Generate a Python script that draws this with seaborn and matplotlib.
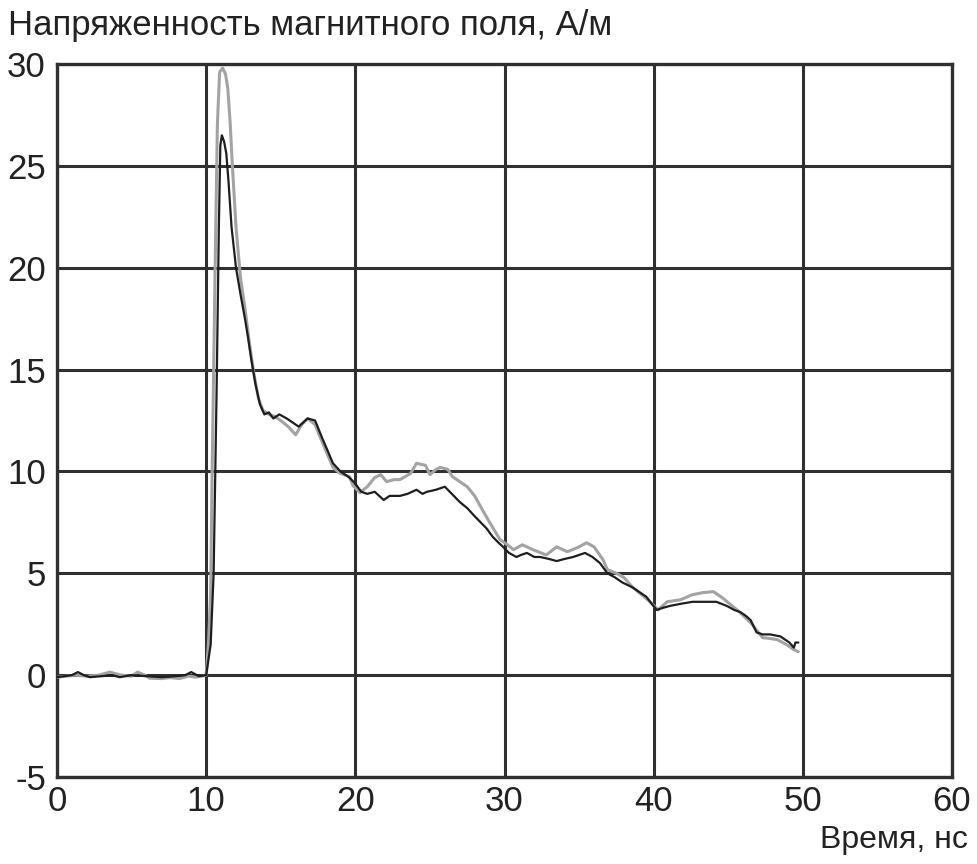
import numpy as np
import pandas as pd
import matplotlib
matplotlib.use('Agg')
import matplotlib.pyplot as plt
import seaborn as sns

# ====================== DATA ======================
t_dark = [0.0, 0.5, 1.0, 1.4, 1.8, 2.2, 3.0, 3.7, 4.2, 5.0, 6.0, 7.0, 8.0, 8.6, 9.0, 9.5, 10.0,
          10.3, 10.5, 10.7, 10.85, 10.95, 11.05, 11.2, 11.35, 11.5, 11.7, 12.0, 12.3, 12.6,
          12.8, 13.0, 13.3, 13.6, 13.9, 14.2, 14.5, 14.9, 15.4, 15.8, 16.2, 16.8, 17.3, 17.8,
          18.5, 19.0, 19.6, 20.0, 20.4, 20.8, 21.3, 21.9, 22.3, 23.0, 23.5, 24.1, 24.5, 24.8,
          25.4, 26.0, 26.6, 27.0, 27.5, 28.0, 28.4, 28.8, 29.2, 29.6, 29.9, 30.3, 30.8, 31.1,
          31.5, 32.0, 32.4, 33.0, 33.5, 34.0, 34.6, 35.0, 35.4, 35.9, 36.4, 36.9, 37.4, 37.9,
          38.6, 39.1, 39.5, 40.2, 40.6, 41.1, 41.8, 42.6, 43.6, 44.2, 44.9, 45.4, 45.8, 46.2,
          46.5, 46.9, 47.3, 47.8, 48.5, 49.1, 49.4, 49.5, 49.7]
v_dark = [-0.1, -0.05, 0.0, 0.15, 0.0, -0.1, -0.05, 0.0, -0.1, 0.0, -0.05, -0.1, -0.05, 0.0, 0.15, -0.05, 0.0,
          1.5, 5.0, 14.0, 22.0, 26.0, 26.5, 26.2, 25.6, 24.2, 22.0, 20.0, 18.7, 17.5,
          16.6, 15.6, 14.3, 13.3, 12.8, 12.9, 12.6, 12.8, 12.6, 12.4, 12.2, 12.6, 12.5, 11.6,
          10.4, 10.0, 9.7, 9.4, 9.0, 8.9, 9.0, 8.6, 8.8, 8.8, 8.9, 9.1, 8.9, 9.0,
          9.1, 9.25, 8.8, 8.5, 8.2, 7.8, 7.5, 7.2, 6.8, 6.5, 6.3, 6.0, 5.8, 5.9,
          6.0, 5.8, 5.8, 5.7, 5.6, 5.7, 5.8, 5.9, 6.0, 5.8, 5.5, 5.0, 4.8, 4.55,
          4.3, 4.05, 3.85, 3.2, 3.3, 3.4, 3.5, 3.6, 3.6, 3.6, 3.4, 3.2, 3.1, 2.9,
          2.7, 2.1, 2.0, 2.0, 1.9, 1.6, 1.35, 1.6, 1.6]

t_light = [0.0, 0.6, 1.2, 2.0, 2.8, 3.55, 4.3, 5.0, 5.4, 5.9, 6.2, 7.0, 7.6, 8.2, 8.8, 9.3, 9.7, 10.0,
           10.15, 10.3, 10.4, 10.6, 10.75, 10.9, 11.1, 11.3, 11.45, 11.6, 11.75, 12.0, 12.3,
           12.6, 12.9, 13.2, 13.5, 13.8, 14.2, 14.6, 15.0, 15.5, 16.0, 16.4, 16.8, 17.3, 17.8,
           18.5, 19.0, 19.6, 19.85, 20.3, 20.8, 21.3, 21.7, 22.1, 22.6, 23.0, 23.7, 24.1, 24.7,
           25.0, 25.4, 25.7, 26.2, 26.5, 27.0, 27.5, 28.0, 28.4, 29.0, 29.7, 30.2, 30.6, 31.2,
           31.9, 32.8, 33.5, 34.2, 34.9, 35.5, 36.0, 36.6, 36.9, 37.5, 38.0, 38.6, 39.2, 39.75,
           40.3, 40.9, 41.8, 42.6, 43.3, 44.0, 44.6, 45.1, 45.6, 46.5, 47.3, 47.8, 48.3, 48.9,
           49.4, 49.7]
v_light = [-0.1, -0.05, 0.0, -0.05, 0.0, 0.15, 0.0, -0.05, 0.15, 0.0, -0.15, -0.17, -0.12, -0.17, -0.05, -0.1, -0.05, 0.0,
           1.5, 4.0, 10.0, 20.0, 27.0, 29.6, 29.8, 29.5, 28.8, 27.2, 25.1, 22.0, 19.5,
           18.0, 16.3, 14.8, 13.6, 13.0, 12.8, 12.7, 12.5, 12.2, 11.8, 12.3, 12.6, 12.3, 11.4,
           10.2, 9.9, 9.75, 9.3, 8.96, 9.25, 9.7, 9.84, 9.5, 9.6, 9.6, 9.9, 10.4, 10.3,
           9.84, 10.1, 10.2, 10.1, 9.75, 9.5, 9.25, 8.8, 8.27, 7.5, 6.65, 6.4, 6.16, 6.4,
           6.16, 5.9, 6.3, 6.06, 6.26, 6.5, 6.3, 5.67, 5.18, 5.0, 4.8, 4.3, 3.95, 3.6,
           3.2, 3.6, 3.7, 3.95, 4.05, 4.1, 3.8, 3.5, 3.2, 2.58, 1.84, 1.8, 1.74, 1.5,
           1.25, 1.15]

x_ticks = [0, 10, 20, 30, 40, 50, 60]
y_ticks = [-5, 0, 5, 10, 15, 20, 25, 30]
y_title = 'Напряженность магнитного поля, А/м'
x_title = 'Время, нс'

df_dark = pd.DataFrame({'t': t_dark, 'v': v_dark})
df_light = pd.DataFrame({'t': t_light, 'v': v_light})

# ====================== STYLE ======================
sns.set_style('white')
plt.rcParams['font.family'] = ['Liberation Sans Narrow', 'Liberation Sans', 'DejaVu Sans']
plt.rcParams['axes.unicode_minus'] = False
grid_col = '#303030'

fig = plt.figure(figsize=(9.78, 8.64), dpi=100)
ax = fig.add_axes([0.0583, 0.1007, 0.9151, 0.8252])

sns.lineplot(data=df_light, x='t', y='v', color='#a3a3a3', lw=2.2, sort=False, ax=ax, zorder=3)
sns.lineplot(data=df_dark, x='t', y='v', color='#1e1e1e', lw=1.6, sort=False, ax=ax, zorder=4)

ax.set_xlim(0, 60)
ax.set_ylim(-5, 30)
ax.set_xticks(x_ticks)
ax.set_yticks(y_ticks)
ax.grid(True, color=grid_col, lw=2.2, zorder=1)
ax.set_axisbelow(True)
for s in ax.spines.values():
    s.set_color(grid_col)
    s.set_linewidth(2.4)
ax.tick_params(axis='both', length=0, labelsize=25, colors='#222222')
ax.tick_params(axis='x', pad=6)
ax.tick_params(axis='y', pad=8)
ax.set_xlabel('')
ax.set_ylabel('')

fig.text(0.008, 0.971, y_title, fontsize=25, ha='left', va='center', color='#222222')
fig.text(0.990, 0.028, x_title, fontsize=23, ha='right', va='center', color='#222222')

plt.savefig('out.png', dpi=100, facecolor='white')
plt.close()
